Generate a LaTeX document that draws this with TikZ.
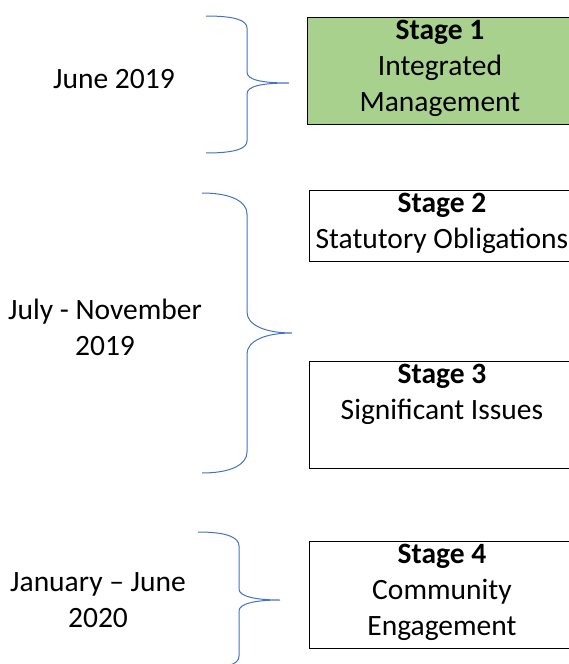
\documentclass[tikz,border=0pt]{standalone}
\usepackage{fontspec}
\setmainfont{Carlito}
\usetikzlibrary{positioning}

\definecolor{braceblue}{RGB}{68,114,196}
\definecolor{stagegreen}{RGB}{169,209,142}

\tikzset{
  stagebox/.style={rectangle, draw=black, line width=0.9pt, minimum width=265pt, anchor=north west, inner sep=0pt},
  stagetext/.style={align=center, inner sep=0pt, font=\fontsize{29.5}{36}\selectfont},
  datetext/.style={align=center, inner sep=0pt, font=\fontsize{29.5}{36}\selectfont},
  brace/.style={draw=braceblue, line width=1pt}
}

\begin{document}
\begin{tikzpicture}[x=1pt, y=-1pt]
\useasboundingbox (0,0) rectangle (568,664);

% stage boxes
\node[stagebox, fill=stagegreen, minimum height=107pt] (s1) at (307,17) {};
\node[stagebox, minimum height=71pt] (s2) at (309,190) {};
\node[stagebox, minimum height=107pt] (s3) at (309,361) {};
\node[stagebox, minimum height=107pt] (s4) at (309,541) {};

\node[stagetext, below=3pt of s1.north] (t1) {\textbf{Stage 1}\\Integrated\\Management};
\node[stagetext, below=3pt of s2.north] (t2) {\textbf{Stage 2}\\Statutory Obligations};
\node[stagetext, below=3pt of s3.north] (t3) {\textbf{Stage 3}\\Significant Issues};
\node[stagetext, below=3pt of s4.north] (t4) {\textbf{Stage 4}\\Community\\Engagement};

% dates
\node[datetext] (d1) at (114,79) {June 2019};
\node[datetext] (d2) at (105,327) {July - November\\2019};
\node[datetext] (d3) at (98,600) {January -- June\\2020};

% curly braces
\draw[brace] (206,16) .. controls (234,16) and (247,20) .. (247,28) -- (247,72)
  .. controls (247,80) and (262,83) .. (289,83)
  .. controls (262,83) and (247,86) .. (247,94) -- (247,141)
  .. controls (247,149) and (234,153) .. (206,153);
\draw[brace] (202,193) .. controls (232,193) and (247,202) .. (247,214) -- (247,312)
  .. controls (247,325) and (265,333) .. (292,333)
  .. controls (265,333) and (247,341) .. (247,354) -- (247,452)
  .. controls (247,464) and (232,473) .. (202,473);
\draw[brace] (198,532) .. controls (226,532) and (239,537) .. (239,546) -- (239,589)
  .. controls (239,596) and (254,600) .. (280,600)
  .. controls (254,600) and (239,604) .. (239,611) -- (239,656)
  .. controls (239,665) and (226,668) .. (198,668);
\end{tikzpicture}
\end{document}
